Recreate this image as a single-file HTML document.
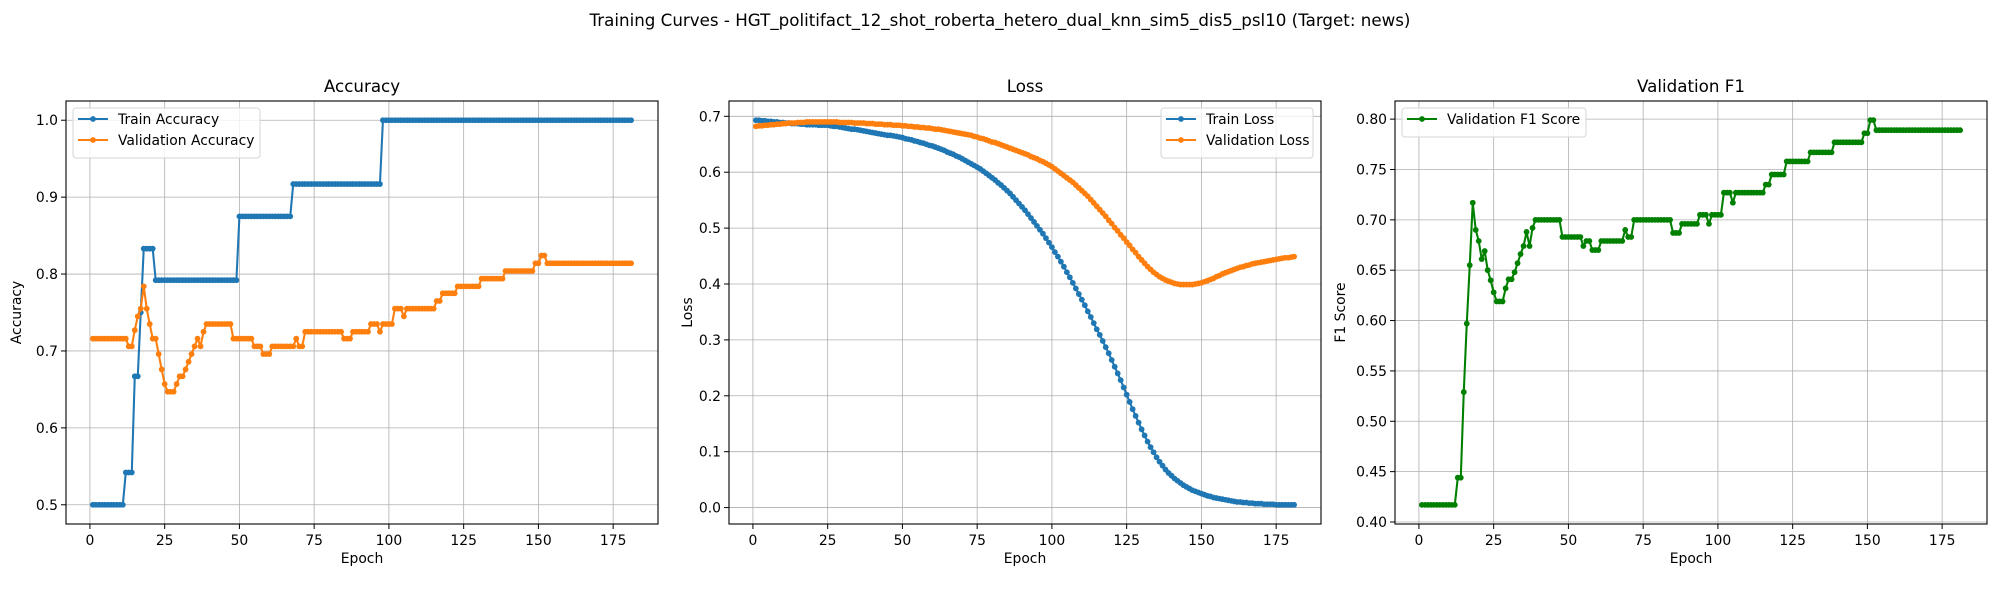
<!DOCTYPE html>
<html><head><meta charset="utf-8"><style>
html,body{margin:0;padding:0;background:#fff}
svg{display:block;font-family:"DejaVu Sans","Liberation Sans",sans-serif}
</style></head><body>
<svg id="fig" width="2000" height="600" viewBox="0 0 2000 600" xmlns="http://www.w3.org/2000/svg">
<rect width="2000" height="600" fill="#fff"/>
<text x="1000" y="26" font-size="16.7" text-anchor="middle">Training Curves - HGT_politifact_12_shot_roberta_hetero_dual_knn_sim5_dis5_psl10 (Target: news)</text>
</svg>
<script>
const trainAcc=[0.5,0.5,0.5,0.5,0.5,0.5,0.5,0.5,0.5,0.5,0.5,0.542,0.542,0.542,0.667,0.667,0.75,0.833,0.833,0.833,0.833,
0.792,0.792,0.792,0.792,0.792,0.792,0.792,0.792,0.792,0.792,0.792,0.792,0.792,0.792,0.792,0.792,0.792,0.792,0.792,0.792,0.792,0.792,0.792,0.792,0.792,0.792,0.792,0.792,
0.875,0.875,0.875,0.875,0.875,0.875,0.875,0.875,0.875,0.875,0.875,0.875,0.875,0.875,0.875,0.875,0.875,0.875,
0.917,0.917,0.917,0.917,0.917,0.917,0.917,0.917,0.917,0.917,0.917,0.917,0.917,0.917,0.917,0.917,0.917,0.917,0.917,0.917,0.917,0.917,0.917,0.917,0.917,0.917,0.917,0.917,0.917,0.917,
1,1,1,1,1,1,1,1,1,1,1,1,1,1,1,1,1,1,1,1,1,1,1,1,1,1,1,1,1,1,1,1,1,1,1,1,1,1,1,1,1,1,1,1,1,1,1,1,1,1,1,1,1,1,1,1,1,1,1,1,1,1,1,1,1,1,1,1,1,1,1,1,1,1,1,1,1,1,1,1,1,1,1,1];
const valAcc=[0.716,0.716,0.716,0.716,0.716,0.716,0.716,0.716,0.716,0.716,0.716,0.716,0.706,0.706,
0.727,0.745,0.755,0.784,0.755,0.735,0.716,0.716,0.696,0.676,0.657,0.647,0.647,0.647,0.657,0.667,0.667,0.676,0.686,0.696,0.706,0.716,0.706,0.725,
0.735,0.735,0.735,0.735,0.735,0.735,0.735,0.735,0.735,
0.716,0.716,0.716,0.716,0.716,0.716,0.716,
0.706,0.706,0.706,0.696,0.696,0.696,
0.706,0.706,0.706,0.706,0.706,0.706,0.706,0.706,0.716,0.706,0.706,
0.725,0.725,0.725,0.725,0.725,0.725,0.725,0.725,0.725,0.725,0.725,0.725,0.725,
0.716,0.716,0.716,0.725,0.725,0.725,0.725,0.725,0.725,0.735,0.735,0.735,0.725,0.735,0.735,0.735,0.735,
0.755,0.755,0.755,0.745,0.755,0.755,0.755,0.755,0.755,0.755,0.755,0.755,0.755,0.755,
0.765,0.765,0.775,0.775,0.775,0.775,0.775,
0.784,0.784,0.784,0.784,0.784,0.784,0.784,0.784,
0.794,0.794,0.794,0.794,0.794,0.794,0.794,0.794,
0.804,0.804,0.804,0.804,0.804,0.804,0.804,0.804,0.804,0.804,
0.814,0.814,0.824,0.824,
0.814,0.814,0.814,0.814,0.814,0.814,0.814,0.814,0.814,0.814,0.814,0.814,0.814,0.814,0.814,0.814,0.814,0.814,0.814,0.814,0.814,0.814,0.814,0.814,0.814,0.814,0.814,0.814,0.814];
const trainLoss=[.693,.693,.692,.692,.691,.691,.690,.690,.689,.689,
.688,.688,.687,.687,.687,.686,.686,.685,.685,.685,
.685,.684,.684,.684,.684,.683,.682,.682,.681,.680,
.679,.678,.677,.677,.676,.675,.674,.673,.672,.671,
.670,.669,.668,.667,.666,.666,.665,.664,.663,.662,
.660,.659,.658,.656,.655,.653,.652,.650,.648,.647,
.645,.643,.641,.639,.636,.634,.632,.629,.627,.624,
.621,.618,.615,.612,.609,.606,.602,.598,.594,.590,
.586,.581,.577,.572,.567,.562,.556,.550,.544,.538,
.532,.525,.518,.511,.504,.497,.490,.482,.474,.466,
.457,.449,.440,.431,.421,.412,.402,.392,.382,.372,
.362,.351,.341,.330,.319,.309,.298,.287,.276,.264,
.252,.240,.228,.215,.202,.189,.176,.164,.152,.140,
.129,.118,.108,.099,.090,.082,.075,.068,.062,.057,
.052,.048,.044,.040,.037,.034,.031,.029,.027,.025,
.023,.021,.020,.018,.017,.016,.015,.014,.013,.012,
.011,.010,.010,.009,.009,.008,.008,.007,.007,.007,
.006,.006,.006,.006,.005,.005,.005,.005,.005,.005,.005];
const valLoss=[.682,.683,.683,.684,.684,.685,.685,.686,.686,.687,
.687,.688,.688,.688,.689,.689,.689,.690,.690,.690,
.690,.690,.690,.690,.690,.690,.690,.690,.689,.689,
.689,.689,.689,.688,.688,.688,.688,.687,.687,.687,
.686,.686,.686,.685,.685,.685,.684,.684,.684,.683,
.683,.682,.682,.681,.681,.680,.680,.679,.679,.678,
.677,.677,.676,.675,.674,.673,.672,.671,.670,.669,
.668,.667,.666,.664,.663,.661,.660,.658,.656,.654,
.653,.651,.649,.647,.645,.643,.641,.639,.637,.635,
.633,.631,.628,.626,.624,.621,.619,.616,.613,.610,
.606,.602,.598,.594,.590,.586,.582,.577,.572,.567,
.562,.557,.551,.545,.539,.533,.527,.521,.514,.508,
.501,.495,.488,.482,.475,.469,.462,.456,.449,.443,
.437,.431,.426,.421,.417,.413,.410,.407,.405,.403,
.401,.400,.399,.399,.399,.399,.399,.400,.401,.402,
.404,.406,.408,.410,.413,.415,.418,.420,.422,.424,
.426,.428,.430,.431,.433,.434,.436,.437,.438,.439,
.440,.441,.442,.443,.444,.445,.446,.447,.447,.448,.449];
const valF1=[0.417,0.417,0.417,0.417,0.417,0.417,0.417,0.417,0.417,0.417,0.417,0.417,0.444,0.444,
0.529,0.597,0.655,0.717,0.690,0.679,0.661,0.669,0.650,0.640,0.628,0.619,0.619,0.619,0.632,0.641,0.641,0.648,0.657,0.666,0.674,0.688,0.674,0.692,
0.700,0.700,0.700,0.700,0.700,0.700,0.700,0.700,0.700,
0.683,0.683,0.683,0.683,0.683,0.683,0.683,
0.674,0.679,0.679,0.670,0.670,0.670,
0.679,0.679,0.679,0.679,0.679,0.679,0.679,0.679,0.690,0.683,0.683,
0.700,0.700,0.700,0.700,0.700,0.700,0.700,0.700,0.700,0.700,0.700,0.700,0.700,
0.687,0.687,0.687,0.696,0.696,0.696,0.696,0.696,0.696,0.705,0.705,0.705,0.696,0.705,0.705,0.705,0.705,
0.727,0.727,0.727,0.717,0.727,0.727,0.727,0.727,0.727,0.727,0.727,0.727,0.727,0.727,
0.735,0.735,0.745,0.745,0.745,0.745,0.745,
0.758,0.758,0.758,0.758,0.758,0.758,0.758,0.758,
0.767,0.767,0.767,0.767,0.767,0.767,0.767,0.767,
0.777,0.777,0.777,0.777,0.777,0.777,0.777,0.777,0.777,0.777,
0.786,0.786,0.799,0.799,
0.789,0.789,0.789,0.789,0.789,0.789,0.789,0.789,0.789,0.789,0.789,0.789,0.789,0.789,0.789,0.789,0.789,0.789,0.789,0.789,0.789,0.789,0.789,0.789,0.789,0.789,0.789,0.789,0.789];
const xTicks=[0,25,50,75,100,125,150,175];
const accTicks=[0.5,0.6,0.7,0.8,0.9,1.0];
const accTickLabels=["0.5","0.6","0.7","0.8","0.9","1.0"];
const lossTicks=[0,0.1,0.2,0.3,0.4,0.5,0.6,0.7];
const lossTickLabels=["0.0","0.1","0.2","0.3","0.4","0.5","0.6","0.7"];
const f1Ticks=[0.40,0.45,0.50,0.55,0.60,0.65,0.70,0.75,0.80];
const f1TickLabels=["0.40","0.45","0.50","0.55","0.60","0.65","0.70","0.75","0.80"];

const NS="http://www.w3.org/2000/svg";
const fig=document.getElementById('fig');
function mk(tag,attrs,parent){const e=document.createElementNS(NS,tag);for(const k in attrs)e.setAttribute(k,attrs[k]);(parent||fig).appendChild(e);return e;}
const TOP=101,BOT=524,W=592;
function panel(o){
  const g=mk('g',{});
  
  
  const L=o.left,R=o.left+W;
  const sx=v=>L+(v-o.xmin)/(o.xmax-o.xmin)*W;
  const sy=v=>BOT-(v-o.ymin)/(o.ymax-o.ymin)*(BOT-TOP);
  // grid
  xTicks.forEach(t=>{const l=mk('line',{x1:sx(t),x2:sx(t),y1:TOP,y2:BOT,stroke:'#b0b0b0','stroke-width':0.8},g);
    
    });
  o.yt.forEach(t=>{const l=mk('line',{x1:L,x2:R,y1:sy(t),y2:sy(t),stroke:'#b0b0b0','stroke-width':0.8},g);
    
    });
  // series
  o.series.forEach(s=>{
    const pts=s.data.map((v,i)=>sx(i+1).toFixed(2)+','+sy(v).toFixed(2)).join(' ');
    const pl=mk('polyline',{points:pts,fill:'none',stroke:s.color,'stroke-width':2.08,'stroke-linejoin':'round'},g);
    
    
    s.data.forEach((v,i)=>{const c=mk('circle',{cx:sx(i+1),cy:sy(v),r:2.9,fill:s.color},g);
      
      });
  });
  // frame
  const fr=mk('rect',{x:L,y:TOP,width:W,height:BOT-TOP,fill:'none',stroke:'#000','stroke-width':1.1},g);
  
  
  // ticks
  xTicks.forEach(t=>{mk('line',{x1:sx(t),x2:sx(t),y1:BOT,y2:BOT+5,stroke:'#000','stroke-width':1},g);
    const tx=mk('text',{x:sx(t),y:BOT+21,'font-size':13.9,'text-anchor':'middle'},g);tx.textContent=t;
    
    });
  o.yt.forEach((t,i)=>{mk('line',{x1:L-5,x2:L,y1:sy(t),y2:sy(t),stroke:'#000','stroke-width':1},g);
    const tx=mk('text',{x:L-8,y:sy(t)+5,'font-size':13.9,'text-anchor':'end'},g);tx.textContent=o.ytl[i];
    
    });
  const ti=mk('text',{x:L+W/2,y:92,'font-size':16.7,'text-anchor':'middle'},g);ti.textContent=o.title;
  
  
  const xl=mk('text',{x:L+W/2,y:563,'font-size':13.9,'text-anchor':'middle'},g);xl.textContent='Epoch';
  
  
  const yl=mk('text',{x:0,y:0,'font-size':13.9,'text-anchor':'middle',transform:`translate(${o.ylx},${(TOP+BOT)/2}) rotate(-90)`},g);yl.textContent=o.ylabel;
  
  
  // legend
  const lg=mk('g',{},g);
  
  
  mk('rect',{x:o.leg.x,y:108,width:o.leg.w,height:8+o.series.length*21,rx:3,fill:'#fff','fill-opacity':0.8,stroke:'#d6d6d6','stroke-width':1},lg);
  o.series.forEach((s,i)=>{const yy=119+i*21;const lx=o.leg.x+5;
    const e=mk('g',{},lg);
    
    
    mk('line',{x1:lx,x2:lx+30,y1:yy,y2:yy,stroke:s.color,'stroke-width':2.08},e);
    mk('circle',{cx:lx+15,cy:yy,r:2.9,fill:s.color},e);
    const t=mk('text',{x:lx+40,y:yy+5,'font-size':13.9},e);t.textContent=s.label;});
}
panel({name:'accuracy-chart',left:66,xmin:-8,xmax:190,ymin:0.475,ymax:1.025,yt:accTicks,ytl:accTickLabels,title:'Accuracy',ylabel:'Accuracy',ylx:21,
  leg:{x:73,w:187},series:[{id:'train-accuracy',label:'Train Accuracy',color:'#1f77b4',data:trainAcc},{id:'validation-accuracy',label:'Validation Accuracy',color:'#ff7f0e',data:valAcc}]});
panel({name:'loss-chart',left:729,xmin:-8,xmax:190,ymin:-0.0294,ymax:0.7274,yt:lossTicks,ytl:lossTickLabels,title:'Loss',ylabel:'Loss',ylx:692,
  leg:{x:1161,w:152},series:[{id:'train-loss',label:'Train Loss',color:'#1f77b4',data:trainLoss},{id:'validation-loss',label:'Validation Loss',color:'#ff7f0e',data:valLoss}]});
panel({name:'f1-chart',left:1395,xmin:-8,xmax:190,ymin:0.398,ymax:0.818,yt:f1Ticks,ytl:f1TickLabels,title:'Validation F1',ylabel:'F1 Score',ylx:1345,
  leg:{x:1402,w:184},series:[{id:'validation-f1',label:'Validation F1 Score',color:'#008000',data:valF1}]});
</script>
</body></html>
